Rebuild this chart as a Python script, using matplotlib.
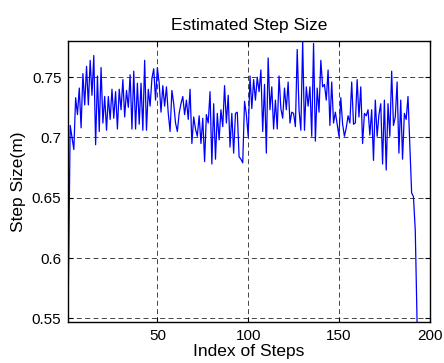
import matplotlib
matplotlib.use("Agg")
import matplotlib.pyplot as plt
import numpy as np

plt.rcParams['font.family'] = ['Liberation Sans', 'DejaVu Sans']

seg_a = [0.576, 0.710, 0.700, 0.690, 0.733, 0.719, 0.741, 0.708, 0.753, 0.727,
         0.759, 0.727, 0.764, 0.735, 0.768, 0.694, 0.751, 0.705, 0.758, 0.712,
         0.734, 0.706, 0.734, 0.715, 0.740, 0.716, 0.738, 0.707, 0.740, 0.723,
         0.748, 0.717, 0.739, 0.725, 0.752, 0.707, 0.755, 0.707, 0.745, 0.711,
         0.745, 0.706, 0.764, 0.706, 0.740, 0.726, 0.749, 0.757, 0.731, 0.758]
seg_b = [0.745, 0.721, 0.743, 0.726, 0.742, 0.720, 0.705, 0.739, 0.728, 0.712,
         0.705, 0.720, 0.728, 0.734, 0.719, 0.731, 0.715, 0.740, 0.695, 0.717,
         0.707, 0.701, 0.718, 0.695, 0.716, 0.680, 0.719, 0.712, 0.738, 0.678,
         0.728, 0.682, 0.720, 0.698, 0.723, 0.709, 0.743, 0.712, 0.735, 0.692,
         0.720, 0.687, 0.720, 0.721, 0.684, 0.682, 0.679, 0.730, 0.719, 0.701]
seg_c = [0.751, 0.724, 0.748, 0.731, 0.750, 0.738, 0.756, 0.705, 0.744, 0.687,
         0.766, 0.723, 0.742, 0.707, 0.731, 0.707, 0.751, 0.724, 0.716, 0.741,
         0.723, 0.746, 0.712, 0.721, 0.720, 0.709, 0.773, 0.723, 0.706, 0.780,
         0.706, 0.742, 0.726, 0.742, 0.701, 0.778, 0.697, 0.741, 0.721, 0.764,
         0.742, 0.744, 0.731, 0.756, 0.710, 0.746, 0.712, 0.721, 0.711, 0.701]
seg_d = [0.733, 0.711, 0.701, 0.708, 0.718, 0.712, 0.746, 0.711, 0.712, 0.748,
         0.717, 0.742, 0.695, 0.720, 0.718, 0.723, 0.702, 0.723, 0.681, 0.731,
         0.701, 0.719, 0.728, 0.678, 0.731, 0.673, 0.728, 0.701, 0.755, 0.710,
         0.717, 0.746, 0.687, 0.731, 0.682, 0.720, 0.715, 0.734, 0.694, 0.654,
         0.651, 0.623, 0.547]
step_size = seg_a + seg_b + seg_c + seg_d
steps = np.arange(1, len(step_size) + 1)

x_ticks = [50, 100, 150, 200]
y_ticks = [0.55, 0.6, 0.65, 0.7, 0.75]
y_tick_labels = ['0.55', '0.6', '0.65', '0.7', '0.75']

fig = plt.figure(figsize=(4.44, 3.63), dpi=100)
ax = fig.add_axes([0.154, 0.113, 0.814, 0.774])
ax.plot(steps, step_size, color=(0, 0, 1), linewidth=0.9)
ax.set_xlim(1, 200)
ax.set_ylim(min(step_size), max(step_size))
ax.set_xticks(x_ticks)
ax.set_yticks(y_ticks)
ax.set_yticklabels(y_tick_labels)
ax.grid(True, color='0.15', linestyle=(0, (6, 4)), linewidth=0.6)
ax.tick_params(direction='in', length=3.5, width=0.8, labelsize=11,
               top=True, right=True, pad=5)
for s in ax.spines.values():
    s.set_linewidth(1.0)
ax.set_title('Estimated Step Size', fontsize=12.5, pad=8)
ax.set_xlabel('Index of Steps', fontsize=12.5, labelpad=1)
ax.set_ylabel('Step Size(m)', fontsize=12.5, labelpad=4)
fig.savefig('out.png', dpi=100)
